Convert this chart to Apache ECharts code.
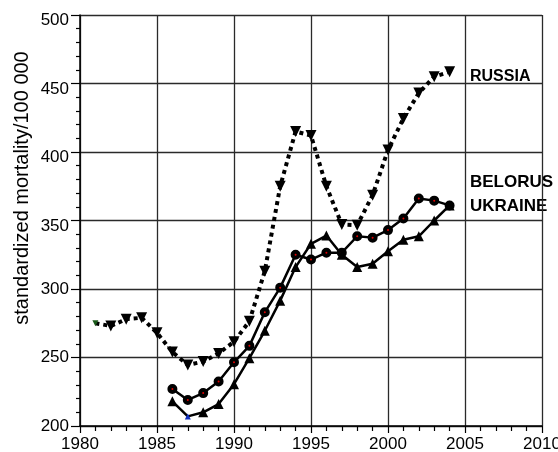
<!DOCTYPE html>
<html>
<head>
<meta charset="utf-8">
<script src="https://cdn.jsdelivr.net/npm/echarts@6/dist/echarts.min.js"></script>
<style>html,body{margin:0;padding:0;background:#fff;}#c{width:558px;height:452px;}</style>
</head>
<body>
<div id="c"></div>
<script>
var russiaYears = [1981,1982,1983,1984,1985,1986,1987,1988,1989,1990,1991,1992,1993,1994,1995,1996,1997,1998,1999,2000,2001,2002,2003,2004];
var russiaValues = [275,273,278,279,268,254,244.5,247,253,261.5,276.5,313,375,415,412,375,347,346.5,368.5,401.5,424.5,443,455,458.5];
var otherYears = [1986,1987,1988,1989,1990,1991,1992,1993,1994,1995,1996,1997,1998,1999,2000,2001,2002,2003,2004];
var belorusValues = [227,219,224,232.5,246.5,258.5,283,301,325,321.5,326.5,326.5,338.5,337.5,343,351.5,366,364.5,361];
var ukraineValues = [218,207,210,216,230.5,249.5,269.5,291.5,316,333,339,325,316,318.5,327.5,336,338.5,350,361];
var xTicks = {min:1980, max:2010, interval:5};
var yTicks = {min:200, max:500, interval:50};
var seriesLabels = ['RUSSIA','BELORUS','UKRAINE'];
var yAxisTitle = 'standardized mortality/100 000';

function pairs(xs, ys){ return xs.map(function(x,i){ return [x, ys[i]]; }); }

var russiaData = pairs(russiaYears, russiaValues).map(function(p,i){
  if(i===0) return {value:p, symbolSize:6, itemStyle:{color:'#1a5a1a'}};
  return p;
});
var ukraineData = pairs(otherYears, ukraineValues).map(function(p,i){
  if(i===1) return {value:p, symbolSize:6, itemStyle:{color:'#1030c0'}};
  return p;
});

var chart = echarts.init(document.getElementById('c'), null, {renderer:'canvas'});
var font = "'Liberation Sans', Arial, sans-serif";
chart.setOption({
  animation:false,
  backgroundColor:'#fff',
  grid:{left:80, top:15, right:16, bottom:26, containLabel:false, outerBoundsMode:'none'},
  xAxis:{
    type:'value', min:xTicks.min, max:xTicks.max, interval:xTicks.interval,
    axisLine:{show:true, onZero:false, lineStyle:{color:'#000', width:1.5}},
    axisTick:{show:true, inside:false, length:7, lineStyle:{color:'#000', width:1.2}},
    minorTick:{show:true, splitNumber:5, length:5, lineStyle:{color:'#000', width:1.2}},
    splitLine:{show:true, lineStyle:{color:'#2a2a2a', width:1.3}},
    axisLabel:{color:'#000', fontSize:17, fontFamily:font, margin:10, formatter:function(v){return String(v);}}
  },
  yAxis:{
    type:'value', min:yTicks.min, max:yTicks.max, interval:yTicks.interval,
    axisLine:{show:true, onZero:false, lineStyle:{color:'#000', width:1.5}},
    axisTick:{show:true, inside:false, length:9, lineStyle:{color:'#000', width:1.2}},
    minorTick:{show:true, splitNumber:5, length:4, lineStyle:{color:'#000', width:1.2}},
    splitLine:{show:true, lineStyle:{color:'#2a2a2a', width:1.3}},
    axisLabel:{color:'#000', fontSize:17, fontFamily:font, margin:11,
      formatter:function(v){ return v >= 350 ? '{lo|' + v + '}' : String(v); },
      rich:{lo:{fontSize:17, fontFamily:font, color:'#000', padding:[11,0,0,0]}}}
  },
  series:[
    {type:'line', name:seriesLabels[0], data:russiaData, symbol:'triangle', symbolRotate:180, symbolSize:11,
     showAllSymbol:true, itemStyle:{color:'#000'}, lineStyle:{color:'#000', width:4, type:[4,4], cap:'butt'}, z:3},
    {type:'line', name:seriesLabels[1], data:pairs(otherYears, belorusValues), symbol:'circle', symbolSize:6,
     showAllSymbol:true, itemStyle:{color:'#e00000', borderColor:'#000', borderWidth:4}, lineStyle:{color:'#000', width:2.5}, z:4},
    {type:'line', name:seriesLabels[2], data:ukraineData, symbol:'triangle', symbolSize:10,
     showAllSymbol:true, itemStyle:{color:'#000'}, lineStyle:{color:'#000', width:2.5}, z:4}
  ],
  graphic:[
    {type:'text', x:470, y:77, style:{text:seriesLabels[0], font:'bold 16px '+font, fill:'#000', align:'left', verticalAlign:'middle'}},
    {type:'text', x:470, y:182, style:{text:seriesLabels[1], font:'bold 17px '+font, fill:'#000', align:'left', verticalAlign:'middle'}},
    {type:'text', x:470, y:206, style:{text:seriesLabels[2], font:'bold 17px '+font, fill:'#000', align:'left', verticalAlign:'middle'}},
    {type:'text', x:22, y:188, rotation:Math.PI/2, style:{text:yAxisTitle, font:'20px '+font, fill:'#000', align:'center', verticalAlign:'middle'}}
  ]
});
</script>
</body>
</html>
